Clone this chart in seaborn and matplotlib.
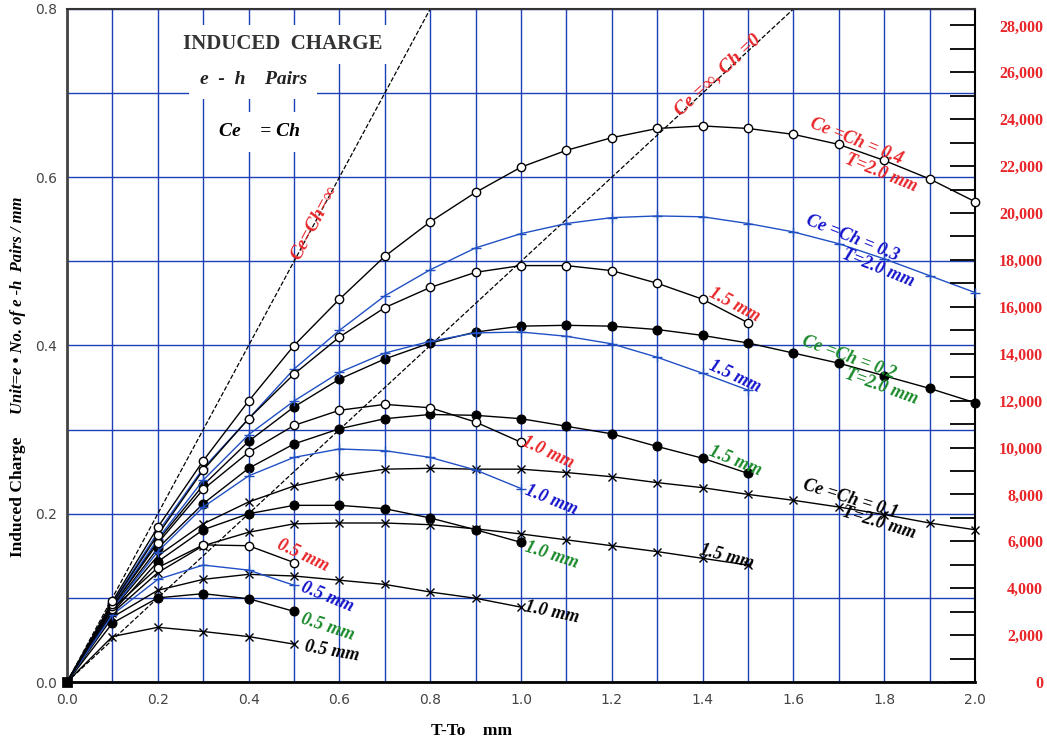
import matplotlib
matplotlib.use("Agg")
import numpy as np
import matplotlib.pyplot as plt
import seaborn as sns
from matplotlib.ticker import MultipleLocator, FuncFormatter

# ---- depth positions (T - To, mm) for each detector thickness ----
x_t05 = [0.0, 0.1, 0.2, 0.3, 0.4, 0.5]
x_t10 = [0.0, 0.1, 0.2, 0.3, 0.4, 0.5, 0.6, 0.7, 0.8, 0.9, 1.0]
x_t15 = [0.0, 0.1, 0.2, 0.3, 0.4, 0.5, 0.6, 0.7, 0.8, 0.9, 1.0,
         1.1, 1.2, 1.3, 1.4, 1.5]
x_t20 = [0.0, 0.1, 0.2, 0.3, 0.4, 0.5, 0.6, 0.7, 0.8, 0.9, 1.0,
         1.1, 1.2, 1.3, 1.4, 1.5, 1.6, 1.7, 1.8, 1.9, 2.0]

# ---- induced charge, Ce = Ch = 0.4 (open circles) ----
c04_t05 = [0, 0.087, 0.136, 0.163, 0.162, 0.142]
c04_t10 = [0, 0.090, 0.165, 0.229, 0.273, 0.305, 0.323, 0.330, 0.326, 0.309, 0.285]
c04_t15 = [0, 0.093, 0.175, 0.252, 0.313, 0.366, 0.410, 0.445, 0.469, 0.487, 0.495,
           0.495, 0.489, 0.474, 0.455, 0.427]
c04_t20 = [0, 0.096, 0.184, 0.263, 0.334, 0.400, 0.455, 0.506, 0.547, 0.582, 0.612,
           0.632, 0.647, 0.658, 0.661, 0.658, 0.651, 0.639, 0.620, 0.598, 0.571]

# ---- Ce = Ch = 0.3 (blue plus) ----
c03_t05 = [0, 0.080, 0.122, 0.139, 0.133, 0.115]
c03_t10 = [0, 0.087, 0.155, 0.208, 0.245, 0.267, 0.277, 0.275, 0.267, 0.252, 0.230]
c03_t15 = [0, 0.091, 0.170, 0.240, 0.294, 0.334, 0.368, 0.391, 0.405, 0.415, 0.416,
           0.411, 0.402, 0.386, 0.367, 0.347]
c03_t20 = [0, 0.094, 0.178, 0.254, 0.313, 0.372, 0.418, 0.459, 0.490, 0.516, 0.533,
           0.545, 0.552, 0.554, 0.553, 0.545, 0.535, 0.521, 0.503, 0.483, 0.463]

# ---- Ce = Ch = 0.2 (filled circles) ----
c02_t05 = [0, 0.070, 0.100, 0.105, 0.099, 0.084]
c02_t10 = [0, 0.083, 0.143, 0.181, 0.200, 0.210, 0.210, 0.206, 0.195, 0.181, 0.166]
c02_t15 = [0, 0.088, 0.159, 0.212, 0.254, 0.283, 0.301, 0.313, 0.318, 0.317, 0.313,
           0.304, 0.295, 0.280, 0.266, 0.248]
c02_t20 = [0, 0.090, 0.168, 0.234, 0.286, 0.327, 0.360, 0.384, 0.403, 0.416, 0.423,
           0.424, 0.423, 0.419, 0.412, 0.403, 0.391, 0.379, 0.364, 0.349, 0.332]

# ---- Ce = Ch = 0.1 (crosses) ----
c01_t05 = [0, 0.054, 0.065, 0.060, 0.054, 0.045]
c01_t10 = [0, 0.077, 0.109, 0.122, 0.128, 0.126, 0.121, 0.116, 0.107, 0.0995, 0.089]
c01_t15 = [0, 0.082, 0.130, 0.162, 0.178, 0.188, 0.189, 0.189, 0.187, 0.182, 0.176,
           0.169, 0.162, 0.155, 0.147, 0.139]
c01_t20 = [0, 0.086, 0.150, 0.188, 0.214, 0.233, 0.245, 0.253, 0.254, 0.253, 0.253,
           0.249, 0.244, 0.237, 0.231, 0.223, 0.216, 0.208, 0.199, 0.189, 0.181]

# limiting cases: slope of induced charge vs depth
limit_slopes = [1.0, 0.5]          # Ce=Ch=inf ; Ce=inf, Ch=0

right_ticks = list(range(0, 28001, 2000))

RED = "#e8262a"
BLUE = "#1414cc"
GREEN = "#1a8a2a"
LINEBLUE = "#2150c4"
GRID = "#1d3fb5"
SERIF = "Liberation Serif"

fig = plt.figure(figsize=(10.47, 7.46), dpi=100)
ax = fig.add_axes([67 / 1047, 1 - 682 / 746, 908 / 1047, 673 / 746])

ax.set_xlim(0, 2.0)
ax.set_ylim(0, 0.8)
ax.xaxis.set_major_locator(MultipleLocator(0.2))
ax.xaxis.set_minor_locator(MultipleLocator(0.1))
ax.yaxis.set_major_locator(MultipleLocator(0.2))
ax.yaxis.set_minor_locator(MultipleLocator(0.1))
ax.set_axisbelow(True)
ax.grid(True, which="both", color=GRID, lw=1.0)
ax.tick_params(which="both", length=0)
ax.tick_params(axis="y", pad=7, labelsize=10, labelcolor="#444444")
ax.tick_params(axis="x", pad=8, labelsize=10, labelcolor="#444444")
ax.xaxis.set_major_formatter(FuncFormatter(lambda v, p: f"{v:.1f}"))
ax.yaxis.set_major_formatter(FuncFormatter(lambda v, p: f"{v:.1f}"))
for side, col, lw in [("left", "#444444", 2.0), ("bottom", "black", 2.0),
                      ("top", "#333333", 1.5), ("right", "black", 1.5)]:
    ax.spines[side].set_color(col)
    ax.spines[side].set_linewidth(lw)

# limiting dashed lines
for s in limit_slopes:
    xe = min(2.0, 0.8 / s)
    sns.lineplot(x=[0.0, xe], y=[0.0, s * xe], ax=ax, color="black", lw=0.9,
                 dashes=(7, 4), linestyle="--", legend=False, zorder=2)

xs = {0.5: x_t05, 1.0: x_t10, 1.5: x_t15, 2.0: x_t20}
groups = [
    ({0.5: c01_t05, 1.0: c01_t10, 1.5: c01_t15, 2.0: c01_t20},
     dict(color="black", marker="x", markersize=5.5, markeredgewidth=1.0,
          markeredgecolor="black")),
    ({0.5: c02_t05, 1.0: c02_t10, 1.5: c02_t15, 2.0: c02_t20},
     dict(color="black", marker="o", markersize=6.5, markerfacecolor="black",
          markeredgecolor="black")),
    ({0.5: c03_t05, 1.0: c03_t10, 1.5: c03_t15, 2.0: c03_t20},
     dict(color=LINEBLUE, marker="+", markersize=6.5, markeredgewidth=1.0,
          markeredgecolor=LINEBLUE)),
    ({0.5: c04_t05, 1.0: c04_t10, 1.5: c04_t15, 2.0: c04_t20},
     dict(color="black", marker="o", markersize=6, markerfacecolor="white",
          markeredgecolor="black", markeredgewidth=1.0)),
]
for series, style in groups:
    for t, ys in series.items():
        sns.lineplot(x=xs[t], y=ys, ax=ax, lw=1.0, estimator=None, sort=False,
                     legend=False, markevery=slice(1, None), clip_on=False,
                     zorder=4, **style)

# common origin
sns.scatterplot(x=[0.0], y=[0.0], ax=ax, marker="s", s=45, color="black",
                edgecolor="black", legend=False, zorder=6, clip_on=False)

# ---- annotations ----
lab = dict(family=SERIF, fontweight="bold", fontstyle="italic", fontsize=13,
           ha="center", va="center", rotation_mode="anchor", zorder=7)

ax.text(0.546, 0.546, "Ce=Ch=\u221e", color=RED, rotation=62,
        **{**lab, "fontsize": 14})
ax.text(1.434, 0.722, "Ce =\u221e, Ch =0", color=RED, rotation=43,
        **{**lab, "fontsize": 14})

curve_labels = [
    (1.738, 0.643, "Ce =Ch = 0.4", RED, -22),
    (1.793, 0.605, "T=2.0 mm", RED, -22),
    (1.729, 0.528, "Ce =Ch = 0.3", BLUE, -22),
    (1.786, 0.492, "T=2.0 mm", BLUE, -22),
    (1.722, 0.386, "Ce =Ch = 0.2", GREEN, -20),
    (1.793, 0.351, "T=2.0 mm", GREEN, -20),
    (1.725, 0.218, "Ce =Ch = 0.1", "black", -17),
    (1.789, 0.189, "T=2.0 mm", "black", -17),
    (1.471, 0.448, "1.5 mm", RED, -28),
    (1.471, 0.363, "1.5 mm", BLUE, -25),
    (1.471, 0.263, "1.5 mm", GREEN, -22),
    (1.454, 0.149, "1.5 mm", "black", -15),
    (1.059, 0.273, "1.0 mm", RED, -25),
    (1.066, 0.216, "1.0 mm", BLUE, -22),
    (1.068, 0.151, "1.0 mm", GREEN, -18),
    (1.068, 0.083, "1.0 mm", "black", -12),
    (0.520, 0.150, "0.5 mm", RED, -25),
    (0.573, 0.101, "0.5 mm", BLUE, -22),
    (0.573, 0.065, "0.5 mm", GREEN, -18),
    (0.584, 0.036, "0.5 mm", "black", -10),
]
for x, y, s, c, r in curve_labels:
    ax.text(x, y, s, color=c, rotation=r, **lab)

box = dict(boxstyle="square,pad=0.45", fc="white", ec="none")
ax.text(0.476, 0.758, "INDUCED  CHARGE", family=SERIF, fontweight="bold",
        fontsize=15, color="#333333", ha="center", va="center", bbox=box, zorder=7)
ax.text(0.410, 0.716, "e  -  h    Pairs", family=SERIF, fontweight="bold",
        fontstyle="italic", fontsize=14, color="#222222", ha="center", va="center",
        bbox=dict(boxstyle="square,pad=0.55", fc="white", ec="none"), zorder=7)
ax.text(0.423, 0.654, "Ce    = Ch", family=SERIF, fontweight="bold",
        fontstyle="italic", fontsize=14, color="black", ha="center", va="center",
        bbox=dict(boxstyle="square,pad=0.6", fc="white", ec="none"), zorder=7)

# ---- right-hand count axis ----
ax2 = ax.twinx()
ax2.set_ylim(0, 28700)
ax2.set_yticks(right_ticks)
ax2.yaxis.set_minor_locator(MultipleLocator(1000))
ax2.yaxis.set_major_formatter(FuncFormatter(lambda v, p: f"{int(v):,}"))
ax2.tick_params(axis="y", which="both", direction="in", length=18, width=1.3,
                color="black", labelcolor=RED, pad=49)
for lbl in ax2.get_yticklabels():
    lbl.set_family(SERIF)
    lbl.set_fontweight("bold")
    lbl.set_fontsize(11.5)
    lbl.set_ha("right")
for sp in ax2.spines.values():
    sp.set_visible(False)

# ---- axis titles ----
fig.text(472 / 1047, 1 - 731 / 746, "T-To    mm", family=SERIF, fontweight="bold",
         fontsize=12.5, ha="center", va="center")
fig.text(18 / 1047, 1 - 497 / 746, "Induced Charge", family=SERIF,
         fontweight="bold", fontsize=12.5, rotation=90, ha="center", va="center")
fig.text(18 / 1047, 1 - 305 / 746, "Unit=e \u2022 No. of e -h  Pairs / mm",
         family=SERIF, fontweight="bold", fontstyle="italic", fontsize=12,
         rotation=90, ha="center", va="center")

fig.savefig("out.png", dpi=100, facecolor="white")
